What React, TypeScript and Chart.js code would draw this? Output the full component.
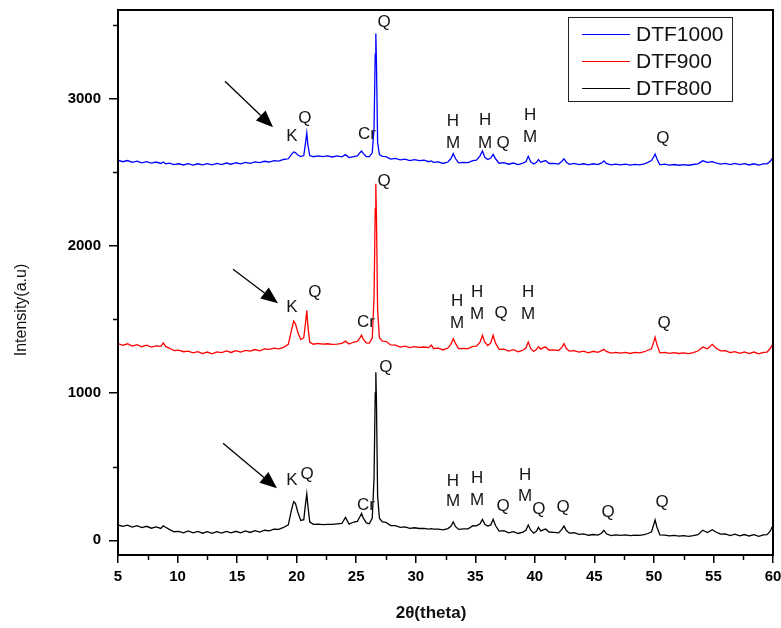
import React, { useEffect, useRef } from 'react';
import { Chart, registerables } from 'chart.js';

Chart.register(...registerables);

// 2θ positions (degrees)
const twoTheta = [
  5, 5.4, 5.8, 6.2, 6.6, 7, 7.4, 7.8, 8.2, 8.6,
  8.8, 9.0, 9.3, 9.7, 10.1, 10.5, 10.9, 11.3, 11.7, 12.1,
  12.5, 12.9, 13.3, 13.7, 14.1, 14.5, 14.9, 15.3, 15.7, 16.1,
  16.5, 16.9, 17.3, 17.7, 18.1, 18.5, 18.9, 19.3, 19.55, 19.75,
  19.9, 20.1, 20.35, 20.6, 20.75, 20.85, 20.95, 21.1, 21.4, 21.8,
  22.2, 22.6, 23, 23.4, 23.8, 24.1, 24.4, 24.8, 25.1, 25.3,
  25.45, 25.6, 25.85, 26.1, 26.35, 26.5, 26.6, 26.65, 26.7, 26.8,
  26.95, 27.2, 27.5, 27.9, 28.3, 28.7, 29.1, 29.5, 29.9, 30.3,
  30.7, 31.1, 31.3, 31.5, 31.9, 32.3, 32.7, 32.95, 33.15, 33.35,
  33.6, 34, 34.4, 34.8, 35.1, 35.4, 35.6, 35.8, 36.05, 36.3,
  36.5, 36.7, 37, 37.4, 37.8, 38.2, 38.6, 39, 39.25, 39.45,
  39.65, 39.9, 40.15, 40.3, 40.5, 40.7, 40.9, 41.2, 41.6, 42,
  42.25, 42.45, 42.65, 42.9, 43.3, 43.7, 44.1, 44.5, 44.9, 45.3,
  45.6, 45.8, 46.0, 46.4, 46.8, 47.2, 47.6, 48, 48.4, 48.8,
  49.2, 49.5, 49.8, 50.0, 50.1, 50.25, 50.5, 50.9, 51.3, 51.7,
  52.1, 52.5, 52.9, 53.3, 53.7, 54.1, 54.5, 54.9, 55.2, 55.6,
  56, 56.4, 56.8, 57.2, 57.6, 58, 58.4, 58.8, 59.2, 59.5,
  59.75, 60,
];

const dtf1000 = [
  2580, 2570, 2578, 2566, 2574, 2562, 2570, 2560, 2568, 2558,
  2568, 2556, 2560, 2550, 2556, 2548, 2557, 2547, 2556, 2549,
  2557, 2549, 2559, 2551, 2561, 2553, 2563, 2555, 2566, 2559,
  2569, 2564, 2573, 2568, 2577, 2574, 2585, 2590, 2618, 2636,
  2632, 2615, 2605, 2612, 2700, 2765, 2680, 2612, 2604, 2610,
  2604, 2610, 2602, 2609, 2603, 2618, 2598, 2604, 2610, 2630,
  2643, 2625, 2605, 2604, 2630, 2800, 3300, 3440, 3250, 2700,
  2618, 2606, 2605, 2588, 2592, 2582, 2588, 2578, 2584, 2578,
  2580, 2570, 2575, 2566, 2569, 2558, 2568, 2590, 2625, 2590,
  2562, 2566, 2564, 2578, 2580, 2610, 2643, 2600, 2585, 2595,
  2620, 2590, 2560, 2564, 2553, 2561, 2551, 2560, 2570, 2607,
  2570, 2554, 2566, 2585, 2566, 2572, 2578, 2558, 2559, 2554,
  2572, 2590, 2566, 2552, 2558, 2550, 2556, 2549, 2556, 2550,
  2562, 2576, 2558, 2548, 2553, 2548, 2553, 2547, 2552, 2549,
  2556, 2566, 2578, 2605, 2622, 2590, 2549, 2553, 2547, 2551,
  2546, 2550, 2546, 2551, 2556, 2576, 2565, 2570, 2562, 2554,
  2559, 2551, 2558, 2550, 2557, 2548, 2556, 2547, 2555, 2556,
  2572, 2598,
];

const dtf900 = [
  1335, 1324, 1334, 1318, 1328, 1314, 1324, 1312, 1320, 1316,
  1340, 1316, 1305, 1288, 1291, 1280, 1284, 1272, 1281, 1268,
  1278, 1266, 1279, 1274, 1285, 1275, 1287, 1277, 1289, 1284,
  1295, 1286, 1299, 1296, 1305, 1300, 1310, 1330, 1420, 1488,
  1470, 1410, 1362, 1375, 1480, 1560, 1450, 1345, 1331, 1336,
  1332, 1334, 1330, 1332, 1336, 1352, 1332, 1346, 1350, 1372,
  1392, 1365, 1340, 1338, 1372, 1650, 2250, 2420, 2200, 1560,
  1375, 1352, 1351, 1326, 1325, 1312, 1318, 1308, 1314, 1310,
  1312, 1308, 1325, 1302, 1304, 1292, 1305, 1330, 1368, 1335,
  1301, 1302, 1301, 1316, 1318, 1345, 1392, 1345, 1322, 1340,
  1392, 1338, 1296, 1298, 1284, 1294, 1280, 1290, 1305, 1346,
  1302, 1282, 1296, 1314, 1298, 1308, 1312, 1290, 1292, 1288,
  1308, 1335, 1302, 1284, 1288, 1278, 1284, 1273, 1283, 1276,
  1288, 1296, 1282, 1271, 1276, 1271, 1275, 1268, 1276, 1272,
  1280, 1290, 1300, 1350, 1378, 1330, 1272, 1275, 1269, 1274,
  1268, 1272, 1267, 1274, 1285, 1312, 1300, 1330, 1305, 1286,
  1288, 1274, 1280, 1269, 1279, 1267, 1278, 1266, 1276, 1278,
  1300, 1335,
];

const dtf800 = [
  104, 94, 103, 90, 99, 86, 95, 82, 91, 80,
  98, 88, 74, 58, 61, 51, 63, 50, 60, 48,
  58, 47, 59, 49, 60, 50, 61, 51, 63, 53,
  65, 55, 68, 64, 75, 74, 87, 105, 200, 262,
  250, 190, 135, 140, 250, 315, 230, 125, 108, 110,
  106, 108, 108, 112, 114, 155, 110, 124, 128, 158,
  182, 150, 118, 112, 150, 420, 1000, 1140, 950, 300,
  150, 124, 121, 100, 99, 88, 91, 81, 85, 80,
  81, 76, 79, 75, 75, 70, 79, 95, 125, 92,
  74, 78, 78, 99, 98, 112, 142, 108, 96, 104,
  142, 100, 62, 65, 50, 59, 46, 55, 68, 104,
  70, 48, 62, 88, 64, 70, 76, 56, 53, 50,
  72, 96, 66, 48, 51, 40, 43, 34, 39, 35,
  48, 68, 44, 32, 37, 33, 36, 31, 35, 33,
  38, 46, 58, 110, 138, 90, 36, 35, 30, 33,
  28, 31, 27, 32, 38, 68, 52, 72, 56, 42,
  43, 32, 41, 30, 39, 29, 38, 27, 37, 38,
  60, 102,
];

const seriesNames = ['DTF1000', 'DTF900', 'DTF800'];
const seriesColors = ['#0000ff', '#ff0000', '#000000'];

const xTicks = [5, 10, 15, 20, 25, 30, 35, 40, 45, 50, 55, 60];
const xMinorTicks = [7.5, 12.5, 17.5, 22.5, 27.5, 32.5, 37.5, 42.5, 47.5, 52.5, 57.5];
const yTicks = [0, 1000, 2000, 3000];
const yMinorTicks = [500, 1500, 2500, 3500];

// Phase labels: [text, 2θ, intensity]
const phaseLabels: [string, number, number][] = [
  // DTF1000
  ['Q', 27.34, 3517], ['Q', 20.7, 2865], ['K', 19.61, 2743], ['Cr', 25.91, 2756],
  ['H', 33.13, 2845], ['M', 33.13, 2695], ['H', 35.82, 2851], ['M', 35.82, 2695],
  ['Q', 37.33, 2695], ['H', 39.6, 2885], ['M', 39.6, 2736], ['Q', 50.76, 2729],
  // DTF900
  ['Q', 27.34, 2437], ['K', 19.61, 1582], ['Q', 21.54, 1684], ['Cr', 25.82, 1480],
  ['H', 33.47, 1622], ['M', 33.47, 1473], ['H', 35.15, 1684], ['M', 35.15, 1534],
  ['Q', 37.16, 1541], ['H', 39.43, 1684], ['M', 39.43, 1534], ['Q', 50.85, 1473],
  // DTF800
  ['Q', 27.5, 1175], ['K', 19.61, 407], ['Q', 20.87, 448], ['Cr', 25.82, 238],
  ['H', 33.13, 400], ['M', 33.13, 265], ['H', 35.15, 421], ['M', 35.15, 272],
  ['Q', 37.33, 231], ['H', 39.18, 441], ['M', 39.18, 299], ['Q', 40.35, 210],
  ['Q', 42.37, 224], ['Q', 46.15, 190], ['Q', 50.68, 258],
];

// Arrows: [x0, y0, x1 (tip), y1 (tip)]
const arrows: [number, number, number, number][] = [
  [13.98, 3116, 18.02, 2804],
  [14.66, 1840, 18.44, 1609],
  [13.82, 658, 18.35, 353],
];

const FONT = '"Liberation Sans", Arial, sans-serif';

const decorPlugin = {
  id: 'decor',
  afterDraw(chart: any) {
    const { ctx, chartArea } = chart;
    const xs = chart.scales.x;
    const ys = chart.scales.y;
    const { left, right, top, bottom } = chartArea;
    ctx.save();

    // frame
    ctx.strokeStyle = '#000';
    ctx.lineWidth = 2;
    ctx.strokeRect(left, top, right - left, bottom - top);

    // minor ticks
    ctx.lineWidth = 1.5;
    ctx.beginPath();
    xMinorTicks.forEach((v) => {
      const px = Math.round(xs.getPixelForValue(v)) + 0.5;
      ctx.moveTo(px, bottom);
      ctx.lineTo(px, bottom + 5);
    });
    yMinorTicks.forEach((v) => {
      const py = Math.round(ys.getPixelForValue(v)) + 0.5;
      ctx.moveTo(left, py);
      ctx.lineTo(left - 5, py);
    });
    ctx.stroke();

    // phase labels
    ctx.fillStyle = '#161616';
    ctx.font = `17px ${FONT}`;
    ctx.textAlign = 'center';
    ctx.textBaseline = 'middle';
    phaseLabels.forEach(([t, x, y]) => {
      ctx.fillText(t, xs.getPixelForValue(x), ys.getPixelForValue(y));
    });

    // arrows
    ctx.strokeStyle = '#000';
    ctx.fillStyle = '#000';
    ctx.lineWidth = 1.3;
    arrows.forEach(([x0, y0, x1, y1]) => {
      const ax = xs.getPixelForValue(x0);
      const ay = ys.getPixelForValue(y0);
      const bx = xs.getPixelForValue(x1);
      const by = ys.getPixelForValue(y1);
      const ang = Math.atan2(by - ay, bx - ax);
      const hl = 17;
      const hw = 7;
      const baseX = bx - hl * Math.cos(ang);
      const baseY = by - hl * Math.sin(ang);
      ctx.beginPath();
      ctx.moveTo(ax, ay);
      ctx.lineTo(baseX, baseY);
      ctx.stroke();
      ctx.beginPath();
      ctx.moveTo(bx, by);
      ctx.lineTo(baseX + hw * Math.sin(ang), baseY - hw * Math.cos(ang));
      ctx.lineTo(baseX - hw * Math.sin(ang), baseY + hw * Math.cos(ang));
      ctx.closePath();
      ctx.fill();
    });

    // legend
    ctx.lineWidth = 1;
    ctx.strokeStyle = '#222';
    ctx.strokeRect(568.5, 17.5, 164, 84);
    ctx.font = `21px ${FONT}`;
    ctx.textAlign = 'left';
    ctx.textBaseline = 'middle';
    seriesNames.forEach((name, i) => {
      const y = 34 + i * 27;
      ctx.strokeStyle = seriesColors[i];
      ctx.lineWidth = 1.2;
      ctx.beginPath();
      ctx.moveTo(582, y + 0.5);
      ctx.lineTo(630, y + 0.5);
      ctx.stroke();
      ctx.fillStyle = '#111';
      ctx.fillText(name, 636, y + 1);
    });

    // axis titles
    ctx.fillStyle = '#111';
    ctx.font = `bold 17px ${FONT}`;
    ctx.textAlign = 'center';
    ctx.fillText('2θ(theta)', 431, 613);
    ctx.save();
    ctx.translate(22, 310);
    ctx.rotate(-Math.PI / 2);
    ctx.font = `16px ${FONT}`;
    ctx.fillText('Intensity(a.u)', 0, 0);
    ctx.restore();

    ctx.restore();
  },
};

export default function App() {
  const canvasRef = useRef<HTMLCanvasElement | null>(null);

  useEffect(() => {
    if (!canvasRef.current) return;
    const allSeries = [dtf1000, dtf900, dtf800];
    const chart = new Chart(canvasRef.current, {
      type: 'line',
      data: {
        datasets: allSeries.map((vals, i) => ({
          label: seriesNames[i],
          data: twoTheta.map((x, j) => ({ x, y: vals[j] })),
          borderColor: seriesColors[i],
          borderWidth: 1.3,
          pointRadius: 0,
          tension: 0,
          fill: false,
        })),
      },
      options: {
        animation: false,
        responsive: false,
        maintainAspectRatio: false,
        layout: { padding: { top: 10, right: 8, left: 0, bottom: 0 } },
        plugins: { legend: { display: false }, tooltip: { enabled: false }, title: { display: false } },
        scales: {
          x: {
            type: 'linear',
            min: 5,
            max: 60,
            afterBuildTicks: (axis: any) => {
              axis.ticks = xTicks.map((v) => ({ value: v }));
            },
            afterFit: (axis: any) => {
              axis.height = 73;
              axis.paddingLeft = 0;
              axis.paddingRight = 0;
            },
            border: { color: '#000', width: 2 },
            grid: { drawOnChartArea: false, drawTicks: true, tickLength: 8, color: '#000', lineWidth: 1.5 },
            ticks: {
              color: '#000',
              font: { family: FONT, size: 15, weight: 'bold' },
              padding: 5,
              maxRotation: 0,
              autoSkip: false,
              callback: (v: any) => String(v),
            },
          },
          y: {
            type: 'linear',
            min: -100,
            max: 3600,
            afterBuildTicks: (axis: any) => {
              axis.ticks = yTicks.map((v) => ({ value: v }));
            },
            afterFit: (axis: any) => {
              axis.width = 118;
              axis.paddingTop = 0;
              axis.paddingBottom = 0;
            },
            border: { color: '#000', width: 2 },
            grid: { drawOnChartArea: false, drawTicks: true, tickLength: 9, color: '#000', lineWidth: 1.5 },
            ticks: {
              color: '#000',
              font: { family: FONT, size: 15, weight: 'bold' },
              padding: 8,
              autoSkip: false,
              callback: (v: any) => String(v),
            },
          },
        },
      } as any,
      plugins: [decorPlugin],
    });
    return () => chart.destroy();
  }, []);

  return (
    <div style={{ position: 'absolute', left: 0, top: 0, width: 781, height: 628, background: '#fff' }}>
      <canvas ref={canvasRef} width={781} height={628} style={{ width: 781, height: 628 }} />
    </div>
  );
}
